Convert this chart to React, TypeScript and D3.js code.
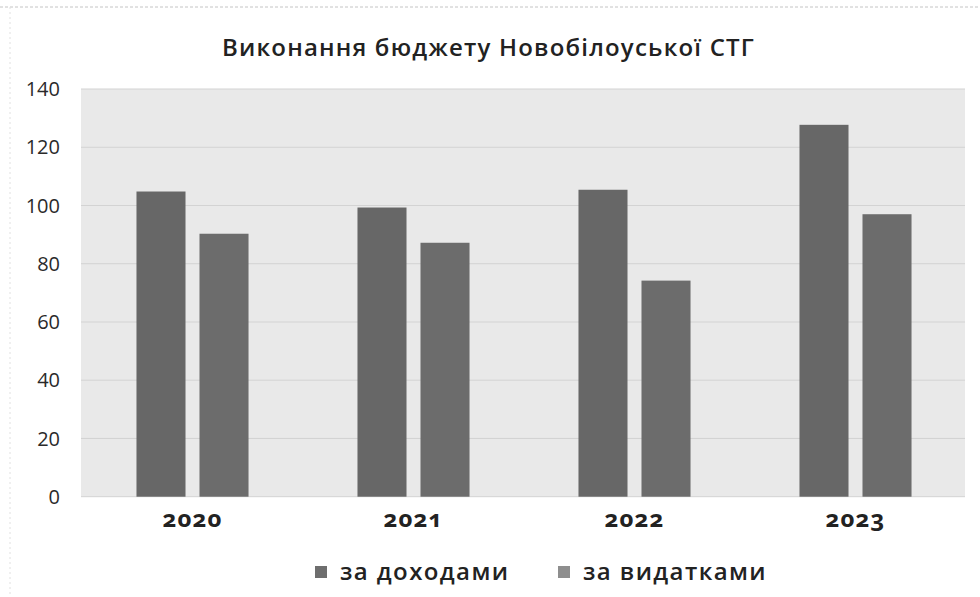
import * as d3 from "d3";

const years = ["2020", "2021", "2022", "2023"];
const seriesNames = ["за доходами", "за видатками"];
const incomeValues = [104.8, 99.3, 105.4, 127.7];
const expenseValues = [90.3, 87.2, 74.2, 97.0];
const yTicks = [0, 20, 40, 60, 80, 100, 120, 140];

const barColors = ["#676767", "#6c6c6c"];
const legendColors = ["#6e6e6e", "#8e8e8e"];

export default function App() {
  const width = 980;
  const height = 597;
  const plot = { left: 81, right: 965, top: 89, bottom: 496.7 };

  // categories
  const x = d3
    .scaleBand()
    .domain(years)
    .range([plot.left + 1, plot.right + 1])
    .paddingInner(0.493)
    .paddingOuter(0.2465);

  // two bars per year
  const xInner = d3
    .scaleBand()
    .domain(seriesNames)
    .range([0, x.bandwidth()])
    .paddingInner(0.222);

  const y = d3.scaleLinear().domain([0, 140]).range([plot.bottom, plot.top]);

  const rows = years.map((yr, i) => ({
    year: yr,
    values: [incomeValues[i], expenseValues[i]],
  }));

  const font = "'Open Sans', 'DejaVu Sans', sans-serif";

  return (
    <svg
      width={width}
      height={height}
      style={{ position: "absolute", left: 0, top: 0, background: "#fff" }}
    >
      {/* scan border */}
      <line x1={0} x2={width} y1={7} y2={7} stroke="#c4c4c4" strokeDasharray="3,2" />
      <line x1={10} x2={10} y1={7} y2={height} stroke="#e0e0e0" strokeDasharray="2,3" />

      <text
        x={488.5}
        y={56}
        textAnchor="middle"
        fontFamily={font}
        fontSize={24}
        fontWeight={600}
        letterSpacing={1.2}
        fill="#222"
      >
        Виконання бюджету Новобілоуської СТГ
      </text>

      {/* plot background */}
      <rect
        x={plot.left}
        y={plot.top}
        width={plot.right - plot.left}
        height={plot.bottom - plot.top}
        fill="#e9e9e9"
      />

      {yTicks.map((t) => (
        <g key={t}>
          <line
            x1={plot.left}
            x2={plot.right}
            y1={y(t)}
            y2={y(t)}
            stroke="#d3d3d3"
            strokeWidth={1}
          />
          <text
            x={60}
            y={y(t)}
            dy="0.36em"
            textAnchor="end"
            fontFamily={font}
            fontSize={20}
            fill="#2a2a2a"
          >
            {t}
          </text>
        </g>
      ))}

      {rows.map((r) => (
        <g key={r.year} transform={`translate(${x(r.year)},0)`}>
          {r.values.map((v, j) => (
            <rect
              key={j}
              x={xInner(seriesNames[j])}
              y={y(v)}
              width={xInner.bandwidth()}
              height={y(0) - y(v)}
              fill={barColors[j]}
            />
          ))}
          <text
            x={x.bandwidth() / 2}
            y={527}
            textAnchor="middle"
            fontFamily={font}
            fontSize={24}
            fontWeight={700}
            letterSpacing={1.2}
            style={{ fontVariantNumeric: "oldstyle-nums" }}
            fill="#222"
          >
            {r.year}
          </text>
        </g>
      ))}

      {/* legend */}
      {seriesNames.map((name, i) => {
        const lx = [315, 558][i];
        return (
          <g key={name} transform={`translate(${lx},0)`}>
            <rect x={0} y={566} width={12} height={12} fill={legendColors[i]} />
            <text
              x={25}
              y={580}
              fontFamily={font}
              fontSize={24}
              fontWeight={600}
              letterSpacing={1.4}
              fill="#222"
            >
              {name}
            </text>
          </g>
        );
      })}
    </svg>
  );
}
